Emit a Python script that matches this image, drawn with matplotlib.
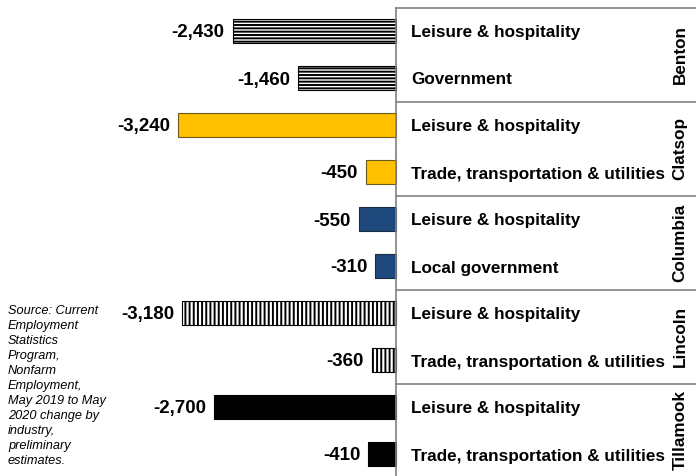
import matplotlib
matplotlib.use("Agg")
import matplotlib.pyplot as plt

counties = ["Benton", "Clatsop", "Columbia", "Lincoln", "Tillamook"]
industries = [
    "Leisure & hospitality", "Government",
    "Leisure & hospitality", "Trade, transportation & utilities",
    "Leisure & hospitality", "Local government",
    "Leisure & hospitality", "Trade, transportation & utilities",
    "Leisure & hospitality", "Trade, transportation & utilities",
]
values = [-2430, -1460, -3240, -450, -550, -310, -3180, -360, -2700, -410]
source_note = ("Source: Current\nEmployment\nStatistics\nProgram,\nNonfarm\nEmployment,\n"
               "May 2019 to May\n2020 change by\nindustry,\npreliminary\nestimates.")

county_styles = {
    "Benton": dict(color="white", edgecolor="black", hatch="-----"),
    "Clatsop": dict(color="#FFC000", edgecolor="#6b5a1a", hatch=None),
    "Columbia": dict(color="#1F497D", edgecolor="#1a2a40", hatch=None),
    "Lincoln": dict(color="white", edgecolor="black", hatch="||||"),
    "Tillamook": dict(color="black", edgecolor="black", hatch=None),
}

plt.rcParams['font.family'] = ['Liberation Sans', 'DejaVu Sans']
plt.rcParams['hatch.linewidth'] = 1.4

W, H = 696, 476
fig = plt.figure(figsize=(W / 100, H / 100), dpi=100)
ax = fig.add_axes([0, 0, 1, 1])
ax.axis("off")

px_per_unit = 218 / 3240
zero_px = 396
ax.set_xlim(-zero_px / px_per_unit, (W - zero_px) / px_per_unit)
pitch = 47
top_center = 31
ax.set_ylim((H - top_center) / pitch, -top_center / pitch)

base_off = 6.5 / pitch
xmax_data = (W - zero_px) / px_per_unit
for i, (val, ind) in enumerate(zip(values, industries)):
    county = counties[i // 2]
    st = county_styles[county]
    ax.barh(i, val, height=0.51, color=st["color"], edgecolor=st["edgecolor"],
            hatch=st["hatch"], linewidth=0.8, zorder=2)
    ax.text(val - 8 / px_per_unit, i + base_off, f"{val:,}", ha="right", va="baseline",
            fontsize=13.5, fontweight="bold", color="black")
    ax.text(15 / px_per_unit, i + base_off, ind, ha="left", va="baseline",
            fontsize=12.3, fontweight="bold", color="black")

# table lines
line_col = "#808080"
ax.plot([0, 0], [-0.5, (H - top_center) / pitch], color=line_col, lw=1.2, zorder=3)
for g in range(len(counties)):
    yb = 2 * g - 0.5
    ax.plot([0, xmax_data], [yb, yb], color=line_col, lw=1.2, zorder=3)
    ax.text(284 / px_per_unit, 2 * g + 0.5, counties[g], rotation=90, ha="center",
            va="center", fontsize=12.3, fontweight="bold", color="black")

fig.text(8 / W, 1 - 305 / H, source_note, ha="left", va="top", fontsize=9.2,
         style="italic", linespacing=1.33, color="black")

fig.savefig("out.png", dpi=100)
